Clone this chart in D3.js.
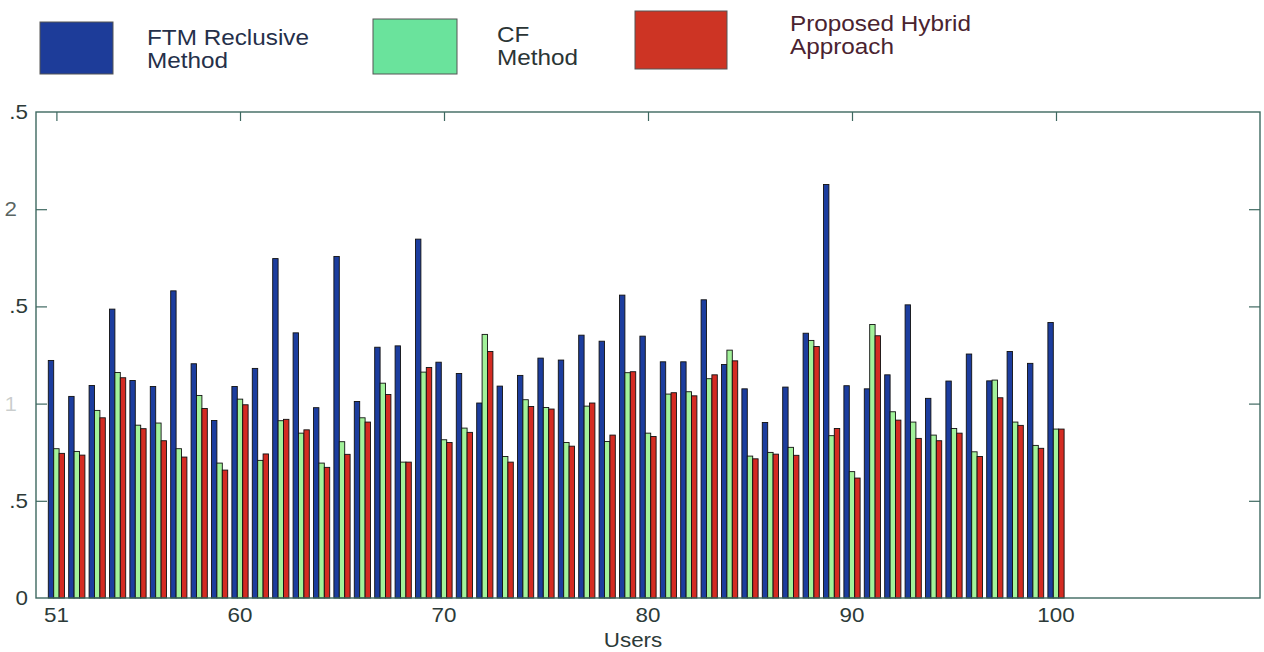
<!DOCTYPE html>
<html>
<head>
<meta charset="utf-8">
<script src="https://cdn.jsdelivr.net/npm/d3@7"></script>
<style>
  html, body { margin: 0; padding: 0; background: #ffffff; }
  svg { display: block; }
  text { font-family: "Liberation Sans", Arial, sans-serif; }
</style>
</head>
<body>
<svg id="chart" width="1264" height="652"></svg>
<script>
// Users on the x axis
const users = [51,52,53,54,55,56,57,58,59,60,61,62,63,64,65,66,67,68,69,70,
               71,72,73,74,75,76,77,78,79,80,81,82,83,84,85,86,87,88,89,90,
               91,92,93,94,95,96,97,98,99,100];

// FTM Reclusive Method
const ftmValues = [1.222,1.037,1.093,1.486,1.119,1.088,1.580,1.205,0.913,1.088,1.181,1.746,
                   1.364,0.979,1.757,1.011,1.290,1.297,1.846,1.213,1.155,1.003,1.090,1.145,
                   1.234,1.224,1.352,1.321,1.558,1.347,1.215,1.215,1.534,1.201,1.076,
                   0.903,1.085,1.362,2.127,1.092,1.076,1.148,1.508,1.027,1.116,1.255,1.117,1.268,1.207,1.417];

// CF Method
const cfValues = [0.768,0.754,0.965,1.160,0.889,0.900,0.768,1.042,0.694,1.023,0.708,0.912,
                  0.848,0.694,0.804,0.927,1.105,0.699,1.162,0.814,0.874,1.356,0.728,1.020,
                  0.980,0.800,0.987,0.805,1.159,0.848,1.049,1.061,1.128,1.275,0.730,
                  0.749,0.775,1.325,0.835,0.650,1.407,0.958,0.905,0.838,0.872,0.752,1.121,0.905,0.785,0.869];

// Proposed Hybrid Approach
const hybridValues = [0.744,0.735,0.927,1.133,0.871,0.809,0.725,0.975,0.658,0.994,0.741,0.919,
                      0.865,0.672,0.739,0.905,1.047,0.699,1.186,0.800,0.852,1.268,0.699,0.985,
                      0.972,0.781,1.003,0.838,1.164,0.831,1.056,1.040,1.148,1.220,0.716,
                      0.740,0.734,1.294,0.872,0.617,1.349,0.915,0.821,0.809,0.848,0.728,1.030,0.888,0.770,0.869];

const seriesNames = [["FTM Reclusive", "Method"], ["CF", "Method"], ["Proposed Hybrid", "Approach"]];
const xTickValues = [51, 60, 70, 80, 90, 100];
const yTickValues = [0, 0.5, 1, 1.5, 2, 2.5];
// the label column is narrow: only the trailing part of each label is printed
const yTickLabels = ["0", ".5", "1", ".5", "2", ".5"];
const xAxisTitle = "Users";

const barColors = ["#1c3d9e", "#a2f29a", "#d42b22"];
const legendColors = ["#1d3c99", "#6ae39c", "#cd3424"];
const legendTextColors = ["#25304a", "#2b3535", "#4a2330"];
const axisColor = "#3e6860";

const svg = d3.select("#chart");

const plot = { left: 36, right: 1260, top: 112, bottom: 598 };

const x = d3.scaleLinear().domain([50, 110]).range([plot.left, plot.right]);
const y = d3.scaleLinear().domain([0, 2.5]).range([plot.bottom, plot.top]);

// grouped bar offsets (in x units)
const slot = 0.265;
const series = [ftmValues, cfValues, hybridValues];
const pxPerUnit = x(1) - x(0);

// tick marks drawn inside the box
const gLeft = svg.append("g").attr("transform", `translate(${plot.left},0)`)
  .call(d3.axisRight(y).tickValues(yTickValues.slice(1, -1)).tickSize(11).tickFormat(""));
const gRight = svg.append("g").attr("transform", `translate(${plot.right},0)`)
  .call(d3.axisLeft(y).tickValues(yTickValues.slice(1, -1)).tickSize(11).tickFormat(""));
const gTop = svg.append("g").attr("transform", `translate(0,${plot.top})`)
  .call(d3.axisBottom(x).tickValues(xTickValues).tickSize(9).tickFormat(""));
const gBottom = svg.append("g").attr("transform", `translate(0,${plot.bottom})`)
  .call(d3.axisTop(x).tickValues(xTickValues).tickSize(9).tickFormat(""));
[gLeft, gRight, gTop, gBottom].forEach(g => {
  g.select(".domain").remove();
  g.selectAll(".tick line").attr("stroke", axisColor).attr("stroke-width", 1.2);
});

// bars
series.forEach((vals, si) => {
  svg.append("g")
    .selectAll("rect")
    .data(users.map((u, i) => ({ u, v: vals[i] })))
    .join("rect")
    .attr("x", d => x(d.u + (si - 1) * slot - slot / 2))
    .attr("width", slot * pxPerUnit)
    .attr("y", d => y(d.v))
    .attr("height", d => y(0) - y(d.v))
    .attr("fill", barColors[si])
    .attr("stroke", "#111")
    .attr("stroke-width", 0.9);
});

// axes box
svg.append("rect")
  .attr("x", plot.left).attr("y", plot.top)
  .attr("width", plot.right - plot.left).attr("height", plot.bottom - plot.top)
  .attr("fill", "none").attr("stroke", axisColor).attr("stroke-width", 1.4);

// x tick labels
svg.append("g").selectAll("text")
  .data(xTickValues)
  .join("text")
  .attr("transform", d => `translate(${x(d)},622) scale(1.12,1)`)
  .attr("text-anchor", "middle")
  .attr("font-size", 20)
  .attr("fill", "#2c3a38")
  .text(d => d);

// y tick labels
svg.append("g")
  .selectAll("text")
  .data(yTickValues.map((v, i) => ({ v, label: yTickLabels[i] })))
  .join("text")
  .attr("transform", d => {
    const xr = (d.v === 1 || d.v === 2) ? 17 : 28;
    return `translate(${xr},${y(d.v) + 7}) scale(1.12,1)`;
  })
  .attr("text-anchor", "end")
  .attr("font-size", 20)
  .attr("fill", "#2c3a38")
  .attr("fill-opacity", d => d.v === 1 ? 0.25 : (d.v === 2 ? 0.8 : 1))
  .text(d => d.label);

// x axis title
svg.append("text")
  .attr("transform", `translate(633,647) scale(1.12,1)`)
  .attr("text-anchor", "middle")
  .attr("font-size", 20)
  .attr("fill", "#2c3a38")
  .text(xAxisTitle);

// legend
const legendBoxes = [
  { x: 40, y: 22, w: 73, h: 52, tx: 147, ty: 45 },
  { x: 373, y: 19, w: 84, h: 55, tx: 497, ty: 42 },
  { x: 635, y: 11, w: 92, h: 58, tx: 790, ty: 31 }
];
legendBoxes.forEach((b, i) => {
  svg.append("rect")
    .attr("x", b.x).attr("y", b.y).attr("width", b.w).attr("height", b.h)
    .attr("fill", legendColors[i]).attr("stroke", "#555").attr("stroke-width", 1);
  seriesNames[i].forEach((line, j) => {
    svg.append("text")
      .attr("transform", `translate(${b.tx},${b.ty + j * 23}) scale(1.08,1)`)
      .attr("font-size", 22.5)
      .attr("fill", legendTextColors[i])
      .text(line);
  });
});
</script>
</body>
</html>
